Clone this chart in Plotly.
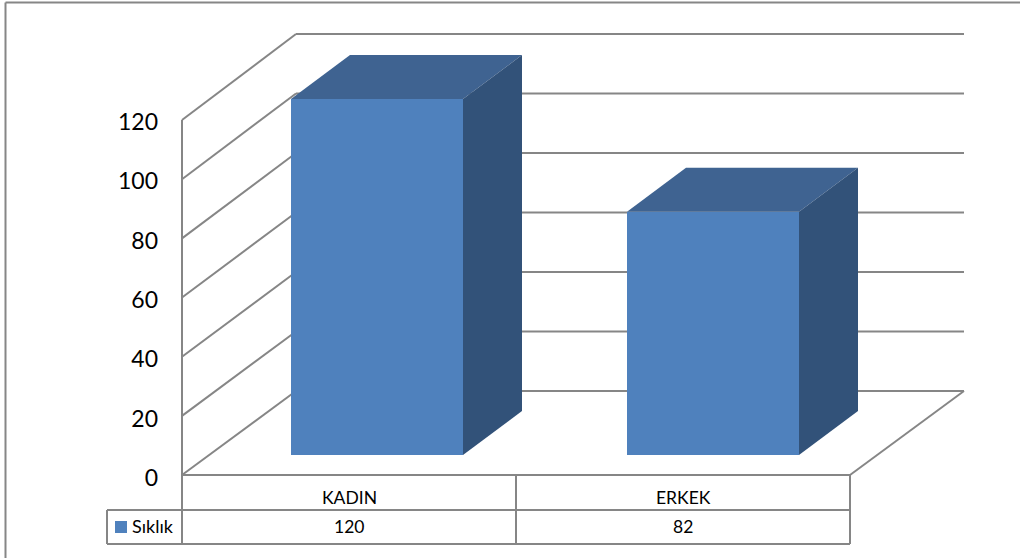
import plotly.graph_objects as go

categories = ["KADIN", "ERKEK"]
series_name = "Sıklık"
values = [120, 82]
y_ticks = [0, 20, 40, 60, 80, 100, 120]

W, H = 1020, 558
PX_CAT = 334.0      # pixels per category
PX_VAL = 2.967      # pixels per value unit
X0, Y0 = 182.0, 478.0   # pixel of category 0 / value 0 on the axis

GREY = "#868686"
FRONT, TOP, SIDE = "#4F81BD", "#3F6391", "#325279"


def dx(px):
    return px / PX_CAT


def dy(px):
    return px / PX_VAL


def wall(v, back):
    """Value v on the front (back=0) or rear (back=1) edge of the side wall."""
    lift = 87 if back else 3
    scale = 2.975 if back else 2.958
    return dy(lift + v * scale)


BACK_DX = dx(114)
FLOOR_RIGHT = len(categories)

BAR_LEFT = dx(109)        # from category start, incl. floor shift
BAR_STEP = dx(336)
BAR_W = dx(172)
BAR_BASE = dy(23)
DEPTH_X = dx(59)
DEPTH_Y = dy(44)

shapes = []


def line(x0, y0, x1, y1, width=2):
    shapes.append(dict(type="line", xref="x", yref="y", layer="below",
                       x0=x0, y0=y0, x1=x1, y1=y1,
                       line=dict(color=GREY, width=width)))


# side wall + rear wall grid
line(0, wall(0, 0), 0, wall(y_ticks[-1], 0))
for t in y_ticks:
    line(0, wall(t, 0), BACK_DX, wall(t, 1))
    line(BACK_DX, wall(t, 1), FLOOR_RIGHT + BACK_DX, wall(t, 1))
# floor
line(0, wall(0, 0), FLOOR_RIGHT, wall(0, 0))
line(FLOOR_RIGHT, wall(0, 0), FLOOR_RIGHT + BACK_DX, wall(0, 1))

# data table
ROW1, ROW2 = dy(-32), dy(-66)
KEY_LEFT = dx(-75)
for i in range(len(categories) + 1):
    line(i, wall(0, 0), i, ROW2)
line(KEY_LEFT, ROW1, FLOOR_RIGHT, ROW1)
line(KEY_LEFT, ROW2, FLOOR_RIGHT, ROW2)
line(KEY_LEFT, ROW1, KEY_LEFT, ROW2)

# outer chart-area frame
x_range = [-X0 / PX_CAT, (W - X0) / PX_CAT]
y_range = [(Y0 - H) / PX_VAL, Y0 / PX_VAL]
FRAME_X = x_range[0] + dx(5.5)
FRAME_Y = y_range[1] - dy(2.5)
line(FRAME_X, y_range[0], FRAME_X, FRAME_Y, 2)
line(FRAME_X, FRAME_Y, x_range[1], FRAME_Y, 2)

fig = go.Figure()

# front faces
bar_left = [i * BAR_STEP + BAR_LEFT for i in range(len(categories))]
fig.add_trace(go.Bar(
    x=[xl + BAR_W / 2 for xl in bar_left],
    y=values, base=BAR_BASE, width=BAR_W, name=series_name,
    marker=dict(color=FRONT, line=dict(width=0)), hoverinfo="skip",
))

# top and side faces
for xl, v in zip(bar_left, values):
    xr = xl + BAR_W
    yb = BAR_BASE
    yt = BAR_BASE + v
    fig.add_trace(go.Scatter(
        x=[xl, xr, xr + DEPTH_X, xl + DEPTH_X, xl],
        y=[yt, yt, yt + DEPTH_Y, yt + DEPTH_Y, yt],
        fill="toself", fillcolor=TOP, mode="none", hoverinfo="skip"))
    fig.add_trace(go.Scatter(
        x=[xr, xr + DEPTH_X, xr + DEPTH_X, xr, xr],
        y=[yt, yt + DEPTH_Y, yb + DEPTH_Y, yb, yt],
        fill="toself", fillcolor=SIDE, mode="none", hoverinfo="skip"))

# data table text
TXT = dict(family="Lato, Carlito, sans-serif", color="#000000")
annotations = []
for i, (c, v) in enumerate(zip(categories, values)):
    xc = i + 0.5
    annotations.append(dict(x=xc, y=dy(-19), xref="x", yref="y", text=c, showarrow=False,
                            font=dict(size=17.5, **TXT)))
    annotations.append(dict(x=xc, y=dy(-48), xref="x", yref="y", text=str(v), showarrow=False,
                            font=dict(size=17.5, **TXT)))
annotations.append(dict(x=dx(-52), y=dy(-48), xref="x", yref="y", text=series_name,
                        showarrow=False, xanchor="left", font=dict(size=18, **TXT)))
# legend key swatch in the table
shapes.append(dict(type="rect", xref="x", yref="y", layer="above",
                   x0=dx(-67), x1=dx(-55), y0=dy(-43), y1=dy(-55),
                   fillcolor=FRONT, line=dict(width=0)))

fig.update_layout(
    width=W, height=H,
    margin=dict(l=0, r=0, t=0, b=0),
    paper_bgcolor="#FFFFFF", plot_bgcolor="#FFFFFF",
    showlegend=False,
    shapes=shapes, annotations=annotations,
    bargap=0,
    xaxis=dict(range=x_range, visible=False, fixedrange=True),
    yaxis=dict(range=y_range, tickmode="array", tickvals=y_ticks,
               anchor="free", position=X0 / W, showgrid=False, zeroline=False,
               showline=False, ticks="", ticklabelstandoff=24,
               tickfont=dict(family="Lato, Carlito, sans-serif", size=23, color="#000000"),
               fixedrange=True),
)

fig.write_html("out.html", config={"displayModeBar": False},
               post_script="document.body.style.margin='0';document.documentElement.style.overflow='hidden';")
